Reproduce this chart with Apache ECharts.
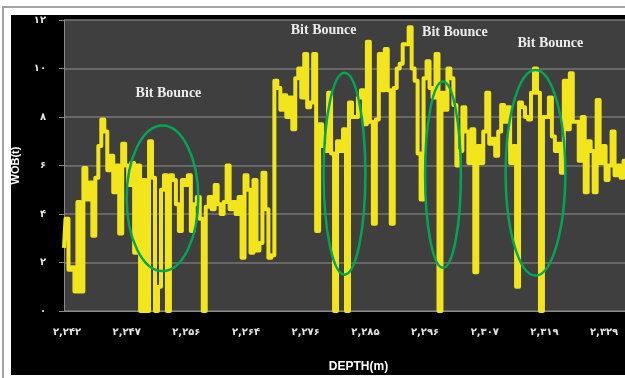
<!DOCTYPE html>
<html>
<head>
<meta charset="utf-8">
<script src="https://cdn.jsdelivr.net/npm/echarts@6/dist/echarts.min.js"></script>
<style>
  html, body { margin: 0; padding: 0; background: #fff; }
  #wrap { position: relative; width: 625px; height: 378px; overflow: hidden; background: #fff; }
  #frame { position: absolute; left: 2px; top: 6px; width: 700px; height: 400px; border: 2px solid #a2a2a2; box-sizing: border-box; }
  #panel { position: absolute; left: 11px; top: 15px; width: 614px; height: 360px; background: #000; }
  #chart { position: absolute; left: 0; top: 0; width: 625px; height: 378px; }
</style>
</head>
<body>
<div id="wrap">
  <div id="frame"></div>
  <div id="panel"></div>
  <div id="chart"></div>
</div>
<script>
// Depth tick labels (every 20th sample) and weight-on-bit ticks
const depthLabels = ['۲,۲۴۲', '۲,۲۴۷', '۲,۲۵۶', '۲,۲۶۴', '۲,۲۷۶', '۲,۲۸۵', '۲,۲۹۶', '۲,۳۰۷', '۲,۳۱۹', '۲,۳۲۹'];
const wobTicks = ['۰', '۲', '۴', '۶', '۸', '۱۰', '۱۲'];

// Weight on bit (t), one reading per depth sample
const wob = [
  2.6, 3.8, 1.7, 1.8, 0.8, 4.5, 0.8, 5.9, 4.6, 5.3,
  3.1, 5.5, 6.8, 7.9, 7.4, 5.8, 6.4, 4.9, 6.0, 3.2,
  6.9, 6.0, 5.2, 6.1, 2.4, 6.0, 0, 5.4, 0, 7.0,
  5.5, 0, 1.0, 5.0, 5.6, 0, 5.6, 5.4, 4.4, 3.3,
  5.4, 5.2, 5.6, 3.3, 4.4, 4.7, 3.8, 0, 4.3, 4.7,
  4.2, 5.2, 4.4, 4.0, 4.5, 6.0, 4.2, 4.5, 4.0, 4.7,
  2.2, 5.6, 5.0, 2.4, 5.4, 2.5, 2.8, 5.7, 4.2, 2.2,
  2.3, 9.5, 9.2, 8.3, 8.9, 8.0, 8.8, 7.5, 9.6, 10.0,
  8.8, 10.6, 8.4, 8.6, 10.6, 3.3, 7.7, 6.8, 6.6, 9.0,
  6.5, 0, 7.0, 6.6, 7.5, 0, 8.6, 8.0, 8.0, 8.8,
  9.1, 7.7, 11.1, 7.8, 3.6, 7.9, 10.6, 9.1, 10.8, 9.1,
  3.6, 9.2, 10.0, 10.2, 11.0, 11.0, 11.7, 10.0, 9.5, 6.5,
  4.6, 9.6, 10.3, 9.2, 8.8, 10.6, 0, 9.0, 8.3, 10.0,
  9.6, 8.5, 6.0, 6.6, 8.4, 7.4, 6.1, 7.5, 1.6, 6.8,
  6.1, 7.4, 9.0, 6.9, 7.1, 6.4, 7.4, 8.5, 7.8, 8.4,
  6.1, 6.8, 1.0, 8.6, 8.4, 8.0, 7.9, 9.0, 10.0, 9.0,
  0, 8.0, 8.0, 8.8, 7.2, 6.6, 6.9, 5.7, 9.5, 7.5,
  9.8, 7.8, 7.8, 6.2, 8.0, 4.9, 7.0, 6.6, 4.9, 8.7,
  6.1, 6.8, 5.4, 6.0, 7.4, 5.6, 6.0, 5.5, 6.2
];

const LABEL_EVERY = 20;
const LABEL_OFFSET = 1;
const samples = wob.map((_, i) => String(i));

// Bit-bounce zones, in (sample index, WOB) units
const bounceZones = [
  { center: [33.4, 4.65], rx: 11.6, ry: 3.0 },
  { center: [94.4, 5.66], rx: 6.6, ry: 4.16 },
  { center: [127.2, 5.62], rx: 5.3, ry: 3.84 },
  { center: [157.6, 5.70], rx: 9.9, ry: 4.24 }
];
const bounceNotes = [
  { text: 'Bit Bounce', at: [35.1, 8.97] },
  { text: 'Bit Bounce', at: [86.8, 11.56] },
  { text: 'Bit Bounce', at: [130.8, 11.47] },
  { text: 'Bit Bounce', at: [162.9, 11.03] }
];

const chart = echarts.init(document.getElementById('chart'), null, { renderer: 'canvas' });

const tickFont = { color: '#e4e4e4', fontSize: 10, fontWeight: 'bold', fontFamily: 'DejaVu Sans' };

chart.setOption({
  backgroundColor: 'transparent',
  animation: false,
  grid: {
    left: 64, top: 20, width: 568, height: 297,
    show: true, backgroundColor: '#3f3f3f', borderWidth: 0
  },
  xAxis: {
    type: 'category',
    data: samples,
    boundaryGap: false,
    name: 'DEPTH(m)',
    nameLocation: 'middle',
    nameGap: 50,
    nameTextStyle: { color: '#ffffff', fontSize: 12, fontWeight: 'bold', fontFamily: 'Liberation Sans', padding: [0, 0, 0, 28] },
    axisLine: { show: true, lineStyle: { color: '#8a8a8a', width: 1 } },
    axisTick: { show: false },
    splitLine: { show: false },
    axisLabel: {
      ...tickFont,
      margin: 16,
      interval: (idx) => idx >= LABEL_OFFSET && (idx - LABEL_OFFSET) % LABEL_EVERY === 0,
      formatter: (val, idx) => depthLabels[(idx - LABEL_OFFSET) / LABEL_EVERY] || ''
    }
  },
  yAxis: {
    type: 'value',
    min: 0, max: 12, interval: 2,
    name: 'WOB(t)',
    nameLocation: 'middle',
    nameGap: 43,
    nameRotate: 90,
    nameTextStyle: { color: '#ffffff', fontSize: 11, fontWeight: 'bold', fontFamily: 'Liberation Sans', padding: [0, 0, 0, 0] },
    axisLine: { show: true, lineStyle: { color: '#8a8a8a', width: 1 } },
    axisTick: { show: true, length: 5, lineStyle: { color: '#8a8a8a' } },
    splitLine: { show: true, lineStyle: { color: '#767676', width: 1.5 } },
    axisLabel: {
      ...tickFont,
      margin: 18,
      formatter: (val) => wobTicks[Math.round(val / 2)]
    }
  },
  series: [{
    type: 'line',
    data: wob,
    step: 'middle',
    showSymbol: false,
    symbol: 'none',
    lineStyle: { color: '#f3e51b', width: 4, join: 'round' },
    clip: true
  }]
});

// Bounce zones and their notes, anchored to data coordinates
function drawAnnotations() {
  const g = [];
  bounceZones.forEach((z) => {
    const c = chart.convertToPixel({ gridIndex: 0 }, z.center);
    const e = chart.convertToPixel({ gridIndex: 0 }, [z.center[0] + z.rx, z.center[1] + z.ry]);
    g.push({
      type: 'ellipse',
      z: 100,
      shape: { cx: c[0], cy: c[1], rx: Math.abs(e[0] - c[0]), ry: Math.abs(c[1] - e[1]) },
      style: { fill: 'none', stroke: '#00a651', lineWidth: 2.5 }
    });
  });
  bounceNotes.forEach((n) => {
    const p = chart.convertToPixel({ gridIndex: 0 }, n.at);
    g.push({
      type: 'text',
      z: 100,
      style: {
        text: n.text, x: p[0], y: p[1],
        align: 'center', verticalAlign: 'middle',
        font: 'bold 14px "Liberation Serif"', fill: '#ececec'
      }
    });
  });
  chart.setOption({ graphic: g });
}
drawAnnotations();
</script>
</body>
</html>
